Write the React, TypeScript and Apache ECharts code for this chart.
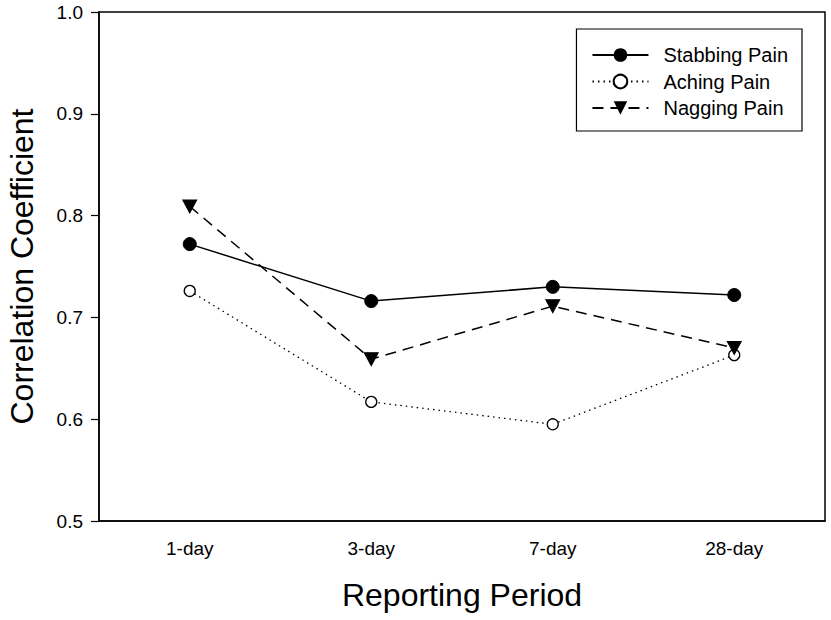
import React, { useEffect, useRef } from "react";
import * as echarts from "echarts";

const categories = ["1-day", "3-day", "7-day", "28-day"];
const stabbing = [0.772, 0.716, 0.730, 0.722];
const aching = [0.726, 0.617, 0.595, 0.663];
const nagging = [0.809, 0.659, 0.711, 0.670];
const yTicks = [0.5, 0.6, 0.7, 0.8, 0.9, 1.0];

const FONT = "'Liberation Sans', Arial, sans-serif";
const DOWN_TRI = "path://M0,0 L10,0 L5,9 Z";

export default function App() {
  const ref = useRef<HTMLDivElement>(null);
  useEffect(() => {
    if (!ref.current) return;
    const chart = echarts.init(ref.current, null, { renderer: "svg" });
    chart.setOption({
      animation: false,
      backgroundColor: "#fff",
      textStyle: { fontFamily: FONT },
      grid: {
        left: 99,
        top: 12,
        right: 6,
        bottom: 99,
        containLabel: false,
        outerBoundsMode: "none",
        show: true,
        borderColor: "#000",
        borderWidth: 1.5,
        backgroundColor: "transparent",
      },
      legend: {
        right: 29,
        top: 29,
        orient: "vertical",
        backgroundColor: "#fff",
        borderColor: "#000",
        borderWidth: 1.2,
        borderRadius: 0,
        padding: [16, 14, 13, 15],
        itemGap: 6.5,
        itemWidth: 56,
        itemHeight: 17,
        textStyle: { fontSize: 20, color: "#000", fontFamily: FONT, padding: [0, 0, 0, 10] },
        data: ["Stabbing Pain", "Aching Pain", "Nagging Pain"],
      },
      xAxis: {
        type: "category",
        data: categories,
        boundaryGap: true,
        name: "Reporting Period",
        nameLocation: "middle",
        nameGap: 58,
        nameTextStyle: { fontSize: 32, color: "#000", fontFamily: FONT },
        axisLine: { lineStyle: { color: "#000", width: 1.5 } },
        axisTick: { alignWithLabel: true, length: 7, lineStyle: { color: "#000", width: 1.2 } },
        axisLabel: { fontSize: 19, color: "#000", margin: 18, fontFamily: FONT },
        splitLine: { show: false },
      },
      yAxis: {
        type: "value",
        min: 0.5,
        max: 1.0,
        interval: 0.1,
        name: "Correlation Coefficient",
        nameLocation: "middle",
        nameGap: 61,
        nameTextStyle: { fontSize: 32, color: "#000", fontFamily: FONT },
        axisLine: { show: true, lineStyle: { color: "#000", width: 1.5 } },
        axisTick: { show: true, length: 8, lineStyle: { color: "#000", width: 1.2 } },
        axisLabel: {
          fontSize: 19,
          color: "#000",
          margin: 16,
          fontFamily: FONT,
          formatter: (v: number) => (yTicks.some((t) => Math.abs(t - v) < 1e-6) ? v.toFixed(1) : ""),
        },
        splitLine: { show: false },
      },
      series: [
        {
          name: "Stabbing Pain",
          type: "line",
          data: stabbing,
          symbol: "circle",
          symbolSize: 13,
          lineStyle: { color: "#000", width: 1.5, type: "solid" },
          itemStyle: { color: "#000", borderColor: "#000" },
          z: 3,
        },
        {
          name: "Aching Pain",
          type: "line",
          data: aching,
          symbol: "circle",
          symbolSize: 11,
          lineStyle: { color: "#000", width: 1.3, type: [1.5, 4] },
          itemStyle: { color: "#fff", borderColor: "#000", borderWidth: 1.3 },
          z: 3,
        },
        {
          name: "Nagging Pain",
          type: "line",
          data: nagging,
          symbol: DOWN_TRI,
          symbolSize: [14, 13],
          lineStyle: { color: "#000", width: 1.5, type: [11, 7] },
          itemStyle: { color: "#000", borderColor: "#000" },
          z: 3,
        },
      ],
    });
    return () => chart.dispose();
  }, []);
  return <div ref={ref} style={{ width: 831, height: 620, position: "absolute", left: 0, top: 0 }} />;
}
